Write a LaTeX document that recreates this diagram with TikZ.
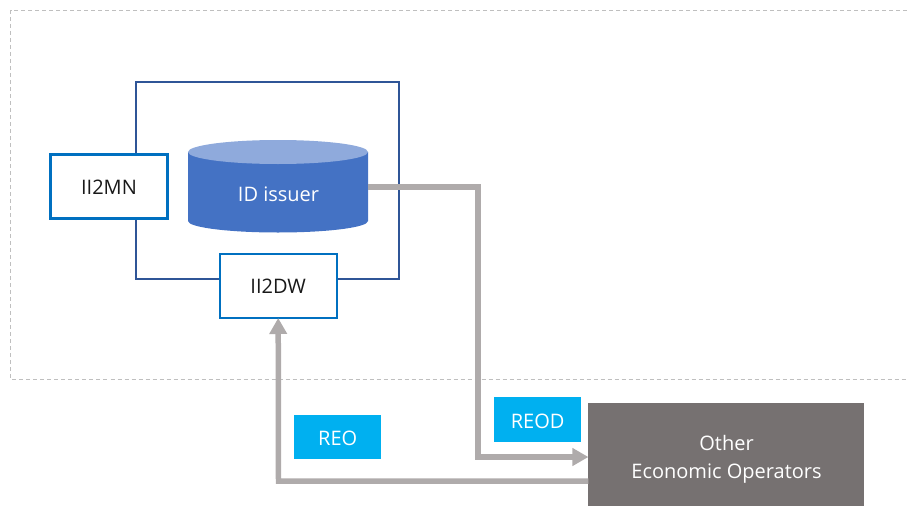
\documentclass[tikz,border=0pt]{standalone}
\usepackage{fontspec}
\setmainfont{Open Sans}
\usetikzlibrary{arrows.meta,calc}
\definecolor{arrowgray}{HTML}{AFABAB}
\definecolor{opgray}{HTML}{767171}
\definecolor{tagblue}{HTML}{00B0F0}
\definecolor{cylblue}{HTML}{4472C4}
\definecolor{cyltop}{HTML}{8FAADC}
\definecolor{ifaceblue}{HTML}{0070C0}
\definecolor{frameblue}{HTML}{2F5597}
\definecolor{dashgray}{HTML}{BFBFBF}
\tikzset{
  x=1pt,y=-1pt,
  every node/.style={font=\fontsize{20}{28}\selectfont,inner sep=0pt,outer sep=0pt},
  iface/.style={draw=ifaceblue,line width=2.2pt,fill=white,minimum width=117pt,minimum height=64pt,text=black!90,text height=15.3pt,text depth=0pt},
  tagbox/.style={fill=tagblue,text=white,minimum width=87.5pt,minimum height=44.5pt},
  flow/.style={draw=arrowgray,line width=5.5pt},
  flowhead/.style={-{Triangle[length=16pt,width=17pt]}},
  zone/.style={draw=dashgray,line width=0.9pt,dash pattern=on 4pt off 3pt},
  frame/.style={draw=frameblue,line width=2pt},
}
\begin{document}
\begin{tikzpicture}
\useasboundingbox (0,0) rectangle (907,506);
\draw[zone] (907,10.5) -- (10.5,10.5) -- (10.5,379) -- (907,379);
\node[frame,minimum width=263pt,minimum height=196.5pt] (frame) at (267,180.7) {};
% cylinder
\fill[cylblue] (188,152) -- (188,221) arc[start angle=180,end angle=360,x radius=90,y radius=-11.5] -- (368,152) -- cycle;
\fill[cyltop] (278,152) ellipse[x radius=90,y radius=12];
\node[text=white] (issuer) at (278.5,194.5) {ID issuer};
\coordinate (cylside) at (368,187);
\node[iface] (mn) at (109,186.5) {II2MN};
\node[iface] (dw) at (278.2,286) {II2DW};
\node[fill=opgray,text=white,minimum width=275.5pt,minimum height=103pt] (ops) at (726.2,454.5) {};
\node[text=white,align=center] (opslabel) at (726.5,459.5) {Other\\Economic Operators};
\node[tagbox,text height=18.3pt,text depth=0pt] (reod) at (537.7,419.7) {REOD};
\node[tagbox,text height=16.3pt,text depth=0pt] (reo) at (337.7,437) {REO};
\coordinate (turnA) at (478,187);
\coordinate (turnB) at (478,457);
\coordinate (turnC) at (278.5,481);
\draw[flow,flowhead] (cylside) -- (turnA) -- (turnB) -- (ops.west |- turnB);
\draw[flow,flowhead] (ops.west |- turnC) -- (turnC) -- (dw.south);
\end{tikzpicture}
\end{document}
